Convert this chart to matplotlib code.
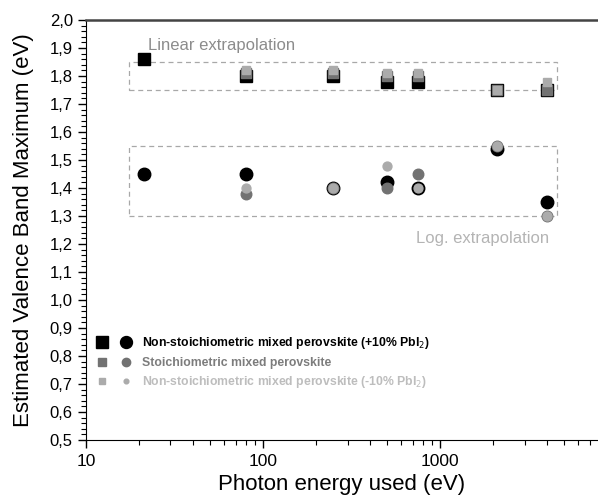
"""Estimated VBM vs photon energy, linear / log extrapolation."""
import numpy as np
import matplotlib
matplotlib.use('Agg')
import matplotlib.pyplot as plt
from matplotlib.lines import Line2D
from matplotlib.patches import Rectangle
from matplotlib.legend_handler import HandlerTuple
from matplotlib.ticker import FixedLocator, MultipleLocator, FuncFormatter, LogLocator, NullFormatter

plt.rcParams['font.family'] = ['Liberation Sans', 'DejaVu Sans']

BLACK = '#000000'; GRAY = '#727272'; LIGHT = '#ababab'; BOXC = '#a8a8a8'

energy = [21.2, 80, 250, 500, 750, 2100, 4000]
nan = np.nan
# linear extrapolation (squares)
lin_plus   = [1.86, 1.80, 1.80, 1.78, 1.78, 1.75, 1.75]
lin_stoich = [nan, 1.81, 1.81, 1.80, 1.80, 1.75, 1.75]
lin_minus  = [nan, 1.82, 1.82, 1.81, 1.81, 1.75, 1.78]
# log extrapolation (circles)
log_plus   = [1.45, 1.45, 1.40, 1.42, 1.40, 1.54, 1.35]
log_stoich = [nan, 1.38, 1.40, 1.40, 1.45, 1.55, 1.30]
log_minus  = [nan, 1.40, 1.40, 1.48, 1.40, 1.55, 1.30]

labels = ['Non-stoichiometric mixed perovskite (+10% PbI$_2$)',
          'Stoichiometric mixed perovskite',
          'Non-stoichiometric mixed perovskite (-10% PbI$_2$)']

fig = plt.figure(figsize=(5.98, 4.99), dpi=100)
ax = fig.add_axes([86/598, 1-440/499, 1-86/598, 420/499])

series = [(lin_plus, log_plus, BLACK, 9.0, 1),
          (lin_stoich, log_stoich, GRAY, 7.6, 2),
          (lin_minus, log_minus, LIGHT, 6.4, 3)]
for lin, lg, col, ms, z in series:
    ax.plot(energy, lin, 's', color=col, ms=ms, mec=col, zorder=3+z)
    ax.plot(energy, lg, 'o', color=col, ms=ms, mec=col, zorder=3+z)

# dashed boxes around the two groups
for y0, y1 in [(1.75, 1.85), (1.30, 1.55)]:
    ax.add_patch(Rectangle((17.5, y0), 4600-17.5, y1-y0, fill=False, ec=BOXC,
                           ls=(0, (4, 3)), lw=0.9, zorder=2))
ax.text(22.5, 1.91, 'Linear extrapolation', color='#8c8c8c', fontsize=12, va='center')
ax.text(4150, 1.218, 'Log. extrapolation', color='#b4b4b4', fontsize=12, ha='right', va='center')

ax.set_xscale('log')
ax.set_xlim(10, 7800)
ax.set_ylim(0.5, 2.0)
ax.xaxis.set_major_locator(FixedLocator([10, 100, 1000]))
ax.xaxis.set_major_formatter(FuncFormatter(lambda v, p: f'{v:.0f}'))
ax.xaxis.set_minor_locator(LogLocator(base=10, subs=np.arange(2, 10)))
ax.xaxis.set_minor_formatter(NullFormatter())
ax.yaxis.set_major_locator(MultipleLocator(0.1))
ax.yaxis.set_minor_locator(MultipleLocator(0.02))
ax.yaxis.set_major_formatter(FuncFormatter(lambda v, p: f'{v:.1f}'.replace('.', ',')))
ax.tick_params(which='major', direction='out', length=6, width=1)
ax.tick_params(which='minor', direction='out', length=3.6, width=0.8)
ax.tick_params(axis='y', which='major', labelsize=12, pad=3.5)
ax.tick_params(axis='x', which='major', labelsize=12.5, pad=4)
ax.spines['right'].set_visible(False)
ax.spines['top'].set_linewidth(1.8)
ax.spines['top'].set_color('#444444')
ax.set_xlabel('Photon energy used (eV)', fontsize=16, labelpad=4)
ax.set_ylabel('Estimated Valence Band Maximum (eV)', fontsize=16, labelpad=11)

# legend: square + circle pairs
leg_specs = [(BLACK, 8.6, 8.6), (GRAY, 6.2, 6.0), (LIGHT, 4.2, 3.4)]
handles = []
for col, ss, cs in leg_specs:
    sq = Line2D([], [], ls='none', marker='s', color=col, ms=ss)
    ci = Line2D([], [], ls='none', marker='o', color=col, ms=cs)
    handles.append((sq, ci))
leg = ax.legend(handles, labels, handler_map={tuple: HandlerTuple(ndivide=None, pad=1.3)},
                loc='lower left', bbox_to_anchor=(0.002, 0.092), frameon=False,
                prop={'size': 8.8, 'weight': 'bold'}, handlelength=2.6,
                handletextpad=1.0, labelspacing=0.45)
for t, c in zip(leg.get_texts(), [BLACK, '#7c7c7c', '#bdbdbd']):
    t.set_color(c)

fig.savefig('out.png', dpi=100)
